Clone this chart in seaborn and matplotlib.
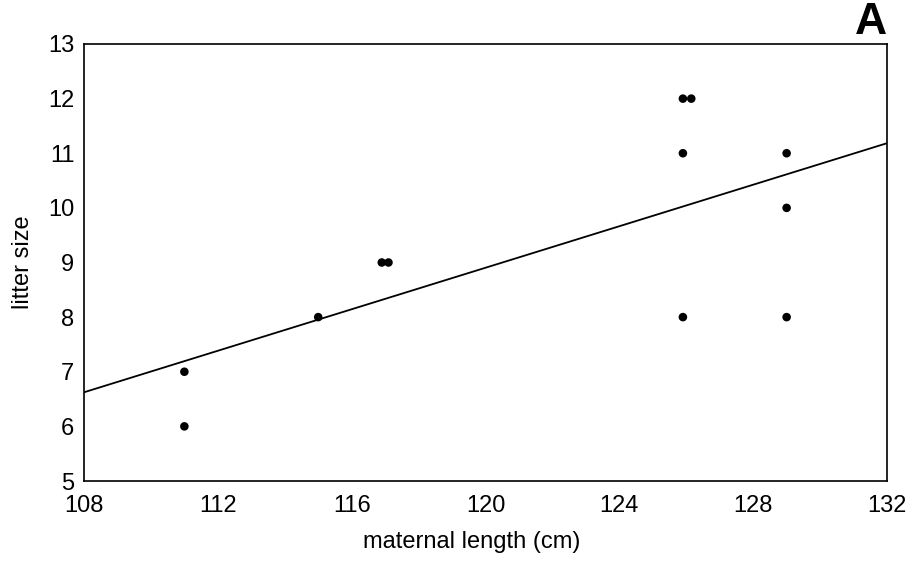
import matplotlib
matplotlib.use("Agg")
import matplotlib.pyplot as plt
import seaborn as sns
import pandas as pd

maternal_length = [111, 111, 115, 116.9, 117.1, 125.9, 126.15, 125.9, 125.9, 129, 129, 129]
litter_size = [7, 6, 8, 9, 9, 12, 12, 11, 8, 11, 10, 8]
x_ticks = [108, 112, 116, 120, 124, 128, 132]
y_ticks = [5, 6, 7, 8, 9, 10, 11, 12, 13]

df = pd.DataFrame({"maternal length (cm)": maternal_length, "litter size": litter_size})

sns.set_style("white")
plt.rcParams["font.family"] = ["Liberation Sans", "DejaVu Sans"]
plt.rcParams["text.color"] = "black"
plt.rcParams["axes.labelcolor"] = "black"
plt.rcParams["xtick.color"] = "black"
plt.rcParams["ytick.color"] = "black"

fig = plt.figure(figsize=(9.17, 5.63), dpi=100)
ax = fig.add_axes([84 / 917, 1 - 481 / 563, (887 - 84) / 917, (481 - 44) / 563])
ax.set_xlim(108, 132)
ax.set_ylim(5, 13)

sns.regplot(data=df, x="maternal length (cm)", y="litter size", ax=ax, ci=None,
            truncate=False,
            scatter_kws={"s": 38, "color": "black", "edgecolor": "none", "alpha": 1},
            line_kws={"color": "black", "lw": 1.3})
ax.set_xlim(108, 132)
ax.set_ylim(5, 13)
ax.set_xticks(x_ticks)
ax.set_yticks(y_ticks)
ax.tick_params(axis="both", length=0, labelsize=17, colors="black")
ax.tick_params(axis="x", pad=10)
ax.tick_params(axis="y", pad=7)
ax.set_xlabel("maternal length (cm)", fontsize=17, color="black")
ax.set_ylabel("litter size", fontsize=17, labelpad=10, color="black")
ax.xaxis.set_label_coords(0.483, -0.115)
for s in ax.spines.values():
    s.set_color("black")
    s.set_linewidth(1.2)

fig.text(887 / 917, 1 - 2 / 563, "A", fontsize=32, ha="right", va="top",
         color="black", fontweight="semibold")

fig.savefig("out.png", dpi=100)
